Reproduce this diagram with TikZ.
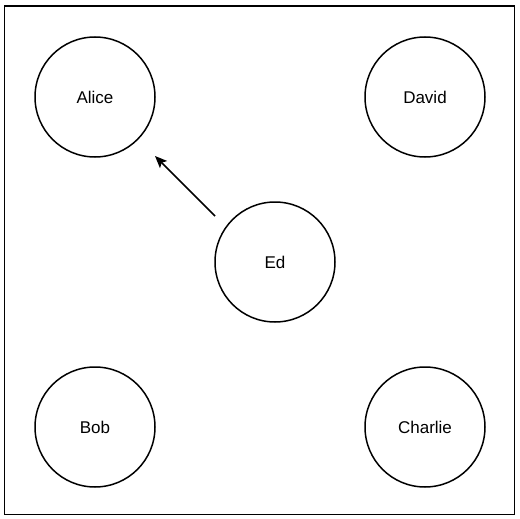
\documentclass[tikz,border=0pt]{standalone}
\usepackage{fontspec}
\setmainfont{Liberation Sans}
\usetikzlibrary{arrows.meta}
\begin{document}
\begin{tikzpicture}[x=1pt,y=-1pt,
  person/.style={circle,draw=black,line width=1.5pt,minimum size=120pt,inner sep=0pt,font=\fontsize{17}{20}\selectfont},
  link/.style={line width=1.5pt,-{Stealth[length=12pt,width=10pt,inset=2.5pt]}}]
\useasboundingbox (0,0) rectangle (520,519);
\draw[line width=1.6pt] (4.5,6) rectangle (514.5,514.5);
\node[person] (alice) at (95,97) {Alice};
\node[person] (david) at (425,97) {David};
\node[person] (ed) at (275,262) {Ed};
\node[person] (bob) at (95,427) {Bob};
\node[person] (charlie) at (425,427) {Charlie};
\coordinate (s) at (215,216);
\coordinate (t) at (155,156);
\draw[link] (s) -- (t);
\end{tikzpicture}
\end{document}
